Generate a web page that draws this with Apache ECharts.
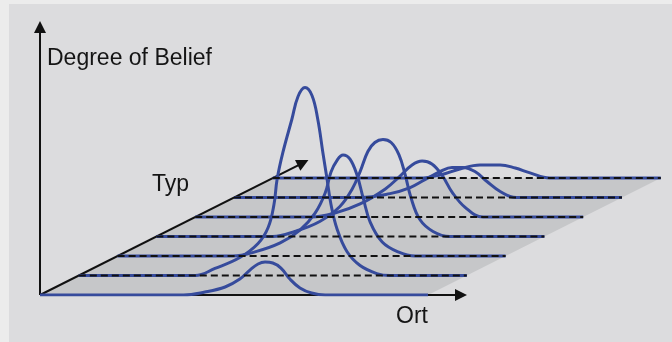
<!DOCTYPE html>
<html>
<head>
<meta charset="utf-8">
<script src="https://cdn.jsdelivr.net/npm/echarts@6/dist/echarts.min.js"></script>
<style>
  html, body { margin: 0; padding: 0; background: #ececec; }
  #chart { width: 672px; height: 342px; }
</style>
</head>
<body>
<div id="chart"></div>
<script>
// Typ-Ebenen (Zeilen der Ebene), jede Zeile ist ortLength lang
const typLevels = [0, 1, 2, 3, 4, 5, 6];
const ortLength = 10;

// Degree of Belief je Typ: [Ort, Belief]
const belief0 = [[0, 0], [3.7, 0], [4.25, 0.15], [4.77, 0.41], [5.15, 0.82], [5.41, 1.28], [5.62, 1.59], [5.8, 1.69], [6.0, 1.64], [6.21, 1.38], [6.44, 0.82], [6.7, 0.36], [7.0, 0.1], [7.35, 0], [10, 0]];
const belief1 = [[0, 0], [3.0, 0], [3.51, 0.36], [4.15, 0.92], [4.62, 1.64], [4.88, 2.46], [5.03, 3.64], [5.11, 4.92], [5.26, 6.31], [5.49, 8.0], [5.65, 9.18], [5.83, 9.64], [6.01, 9.23], [6.16, 8.0], [6.29, 6.31], [6.4, 4.92], [6.5, 3.64], [6.66, 2.36], [6.91, 1.23], [7.25, 0.51], [7.68, 0.1], [8.02, 0], [10, 0]];
const belief2 = [[0, 0], [2.97, 0], [3.54, 0.21], [4.19, 0.67], [4.7, 1.33], [5.09, 2.2], [5.35, 3.23], [5.5, 4.31], [5.66, 4.92], [5.81, 5.18], [5.99, 4.97], [6.17, 4.15], [6.33, 2.97], [6.51, 1.74], [6.82, 0.72], [7.23, 0.21], [7.67, 0], [10, 0]];
const belief3 = [[0, 0], [3.0, 0], [3.57, 0.26], [4.21, 0.77], [4.73, 1.54], [5.04, 2.41], [5.25, 3.33], [5.45, 4.36], [5.63, 4.82], [5.84, 4.97], [6.05, 4.82], [6.25, 4.2], [6.41, 3.18], [6.56, 2.0], [6.79, 0.87], [7.13, 0.26], [7.56, 0], [10, 0]];
const belief4 = [[0, 0], [3.0, 0], [3.6, 0.2], [4.25, 0.67], [4.9, 1.44], [5.28, 2.1], [5.59, 2.67], [5.85, 2.87], [6.1, 2.72], [6.36, 2.15], [6.62, 1.28], [6.95, 0.51], [7.42, 0], [10, 0]];
const belief5 = [[0, 0], [3.25, 0], [4.02, 0.2], [4.54, 0.51], [4.92, 0.92], [5.31, 1.33], [5.62, 1.54], [5.9, 1.54], [6.21, 1.33], [6.52, 0.82], [6.86, 0.31], [7.27, 0], [10, 0]];
const belief6 = [[0, 0], [3.79, 0], [4.31, 0.15], [4.82, 0.46], [5.34, 0.67], [5.86, 0.67], [6.25, 0.51], [6.63, 0.26], [7.14, 0], [10, 0]];
const beliefs = [belief0, belief1, belief2, belief3, belief4, belief5, belief6];

const blue = '#364b9c';

// schräge Projektion: ein Typ-Schritt schiebt nach rechts und nach oben
const project = (typ, ort, b) => [ort + typ, b + typ];

const chart = echarts.init(document.getElementById('chart'));

const lastTyp = typLevels[typLevels.length - 1];
const planeCorners = [
  project(0, 0, 0),
  project(0, ortLength, 0),
  project(lastTyp, ortLength, 0),
  project(lastTyp, 0, 0)
];

const curveSeries = typLevels.map((typ) => ({
  type: 'line',
  data: beliefs[typ].map(([ort, b]) => project(typ, ort, b)),
  smooth: 0.4,
  showSymbol: false,
  lineStyle: { color: blue, width: 3 },
  z: 4
}));

const dashedSeries = typLevels.slice(1).map((typ) => ({
  type: 'line',
  data: [project(typ, 0, 0), project(typ, ortLength, 0)],
  showSymbol: false,
  lineStyle: { color: '#111', width: 2, type: [7, 4] },
  z: 5
}));

chart.setOption({
  animation: false,
  grid: { left: 40, right: 11.2, top: 22, bottom: 47 },
  xAxis: { type: 'value', min: 0, max: 16, show: false },
  yAxis: { type: 'value', min: 0, max: 14, show: false },
  graphic: [
    { type: 'rect', left: 9, top: 4, shape: { width: 663, height: 338 }, style: { fill: '#dcdcde' }, z: -10 },
    { type: 'text', left: 47, top: 47, style: { text: 'Degree of Belief', font: '23px "Liberation Sans"', fill: '#151515' } },
    { type: 'text', left: 152, top: 173, style: { text: 'Typ', font: '23px "Liberation Sans"', fill: '#151515' } },
    { type: 'text', left: 396, top: 305, style: { text: 'Ort', font: '23px "Liberation Sans"', fill: '#151515' } }
  ],
  series: [
    {
      type: 'custom',
      renderItem: (params, api) => ({
        type: 'polygon',
        shape: { points: planeCorners.map((p) => api.coord(p)) },
        style: { fill: '#c6c7c9' }
      }),
      data: [0],
      z: 1
    },
    {
      type: 'lines',
      coordinateSystem: 'cartesian2d',
      clip: false,
      symbol: ['none', 'triangle'],
      symbolSize: 12,
      lineStyle: { color: '#111', width: 2, opacity: 1 },
      data: [
        { coords: [[0, 0], [0, 13.74]] },
        { coords: [[0, 0], [10.85, 0]] },
        { coords: [[0, 0], [6.78, 6.78]] }
      ],
      z: 3
    },
    ...curveSeries,
    ...dashedSeries
  ]
});
</script>
</body>
</html>
